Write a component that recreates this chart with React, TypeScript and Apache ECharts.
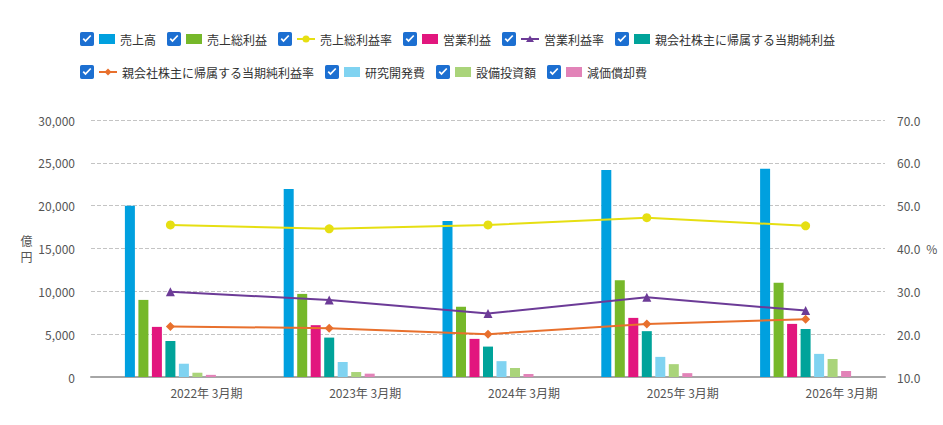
import React, { useEffect, useRef } from 'react';
import * as echarts from 'echarts';

const categories = ['2022年 3月期', '2023年 3月期', '2024年 3月期', '2025年 3月期', '2026年 3月期'];
const sales = [20000, 21950, 18200, 24150, 24300];
const grossProfit = [9000, 9700, 8200, 11300, 11000];
const grossMargin = [45.5, 44.6, 45.5, 47.2, 45.3];
const operatingProfit = [5850, 6050, 4450, 6900, 6200];
const opMargin = [29.9, 28.0, 24.8, 28.6, 25.5];
const netProfit = [4200, 4600, 3550, 5350, 5600];
const netMargin = [21.8, 21.4, 20.0, 22.4, 23.5];
const rnd = [1550, 1750, 1850, 2350, 2700];
const capex = [500, 580, 1050, 1500, 2100];
const depreciation = [250, 390, 350, 450, 700];
const leftTicks = { min: 0, max: 30000, interval: 5000 };
const rightTicks = { min: 10, max: 70, interval: 10 };

type Def = { name: string; kind: 'bar' | 'line'; data: number[]; color: string; symbol?: string };
const defs: Def[] = [
  { name: '売上高', kind: 'bar', data: sales, color: '#00a0df' },
  { name: '売上総利益', kind: 'bar', data: grossProfit, color: '#76b82a' },
  { name: '売上総利益率', kind: 'line', data: grossMargin, color: '#e6df12', symbol: 'circle' },
  { name: '営業利益', kind: 'bar', data: operatingProfit, color: '#e2167e' },
  { name: '営業利益率', kind: 'line', data: opMargin, color: '#6c3b97', symbol: 'triangle' },
  { name: '親会社株主に帰属する当期純利益', kind: 'bar', data: netProfit, color: '#00a39a' },
  { name: '親会社株主に帰属する当期純利益率', kind: 'line', data: netMargin, color: '#e8702d', symbol: 'diamond' },
  { name: '研究開発費', kind: 'bar', data: rnd, color: '#80d3f1' },
  { name: '設備投資額', kind: 'bar', data: capex, color: '#aad47a' },
  { name: '減価償却費', kind: 'bar', data: depreciation, color: '#e283b8' },
];

const checkboxPath =
  'path://M2,0 L14,0 Q16,0 16,2 L16,14 Q16,16 14,16 L2,16 Q0,16 0,14 L0,2 Q0,0 2,0 Z ' +
  'M3,8.2 L6.3,11.6 L13,4.6 L11.6,3.3 L6.3,8.9 L4.4,6.9 Z';

function markerSvg(color: string, symbol: string): string {
  let m = '';
  if (symbol === 'circle') m = `<circle cx='9' cy='5' r='3.5' fill='${color}'/>`;
  else if (symbol === 'triangle') m = `<polygon points='9,1.5 13,8 5,8' fill='${color}'/>`;
  else m = `<polygon points='9,1.5 12.5,5 9,8.5 5.5,5' fill='${color}'/>`;
  const svg = `<svg xmlns='http://www.w3.org/2000/svg' width='18' height='10'><line x1='0' y1='5' x2='18' y2='5' stroke='${color}' stroke-width='2'/>${m}</svg>`;
  return 'data:image/svg+xml;charset=utf-8,' + encodeURIComponent(svg);
}

export default function App() {
  const ref = useRef<HTMLDivElement>(null);
  useEffect(() => {
    document.body.style.margin = '0';
    if (!ref.current) return;
    const chart = echarts.init(ref.current, undefined, { renderer: 'svg' });
    const rich: Record<string, any> = {
      t: { fontSize: 12, color: '#333', padding: [0, 0, 0, 5], fontFamily: '"Noto Sans CJK JP", sans-serif' },
    };
    defs.forEach((d, i) => {
      if (d.kind === 'bar') rich['s' + i] = { width: 16, height: 10, backgroundColor: d.color };
      else rich['s' + i] = { width: 18, height: 10, backgroundColor: { image: markerSvg(d.color, d.symbol as string) } };
    });
    const series: any[] = defs.map((d) =>
      d.kind === 'bar'
        ? {
            name: d.name,
            type: 'bar',
            data: d.data,
            yAxisIndex: 0,
            barWidth: 10,
            barGap: '35%',
            itemStyle: { color: d.color },
          }
        : {
            name: d.name,
            type: 'line',
            data: d.data,
            yAxisIndex: 1,
            symbol: d.symbol,
            symbolSize: 9,
            z: 5,
            lineStyle: { color: d.color, width: 2 },
            itemStyle: { color: d.color },
          }
    );
    const legendBase = (items: Def[], top: number) => ({
      left: 80,
      top,
      padding: 0,
      itemWidth: 14,
      itemHeight: 14,
      itemGap: 11,
      data: items.map((d) => ({
        name: d.name,
        icon: checkboxPath,
        itemStyle: { color: '#1c6fd1', borderWidth: 0 },
      })),
      formatter: (name: string) => {
        const i = defs.findIndex((d) => d.name === name);
        return `{s${i}|}{t|${name}}`;
      },
      textStyle: { rich, fontSize: 12, color: '#333' },
    });
    chart.setOption({
      animation: false,
      textStyle: { fontFamily: '"Noto Sans CJK JP", sans-serif' },
      legend: [legendBase(defs.slice(0, 6), 32), legendBase(defs.slice(6), 65)],
      grid: { left: 91, right: 58, top: 120, bottom: 48 },
      xAxis: {
        type: 'category',
        data: categories,
        axisTick: { show: false },
        axisLine: { lineStyle: { color: '#a6a6a6', width: 2 } },
        axisLabel: { align: 'left', margin: 9, color: '#555', fontSize: 12 },
      },
      yAxis: [
        {
          type: 'value',
          ...leftTicks,
          name: '億\n円',
          nameLocation: 'middle',
          nameRotate: 0,
          nameGap: 58,
          nameTextStyle: { color: '#555', fontSize: 12, lineHeight: 16 },
          axisLabel: {
            color: '#555',
            fontSize: 12,
            margin: 16,
            formatter: (v: number) => v.toLocaleString('en-US'),
          },
          axisLine: { show: false },
          axisTick: { show: false },
          splitLine: { lineStyle: { color: '#c4c4c4', type: 'dashed' } },
        },
        {
          type: 'value',
          ...rightTicks,
          position: 'right',
          name: '%',
          nameLocation: 'middle',
          nameRotate: 0,
          nameGap: 40,
          nameTextStyle: { color: '#555', fontSize: 12 },
          axisLabel: { color: '#555', fontSize: 12, margin: 12, formatter: (v: number) => v.toFixed(1) },
          axisLine: { show: false },
          axisTick: { show: false },
          splitLine: { show: false },
        },
      ],
      series,
    });
    return () => chart.dispose();
  }, []);
  return <div ref={ref} style={{ width: 943, height: 425 }} />;
}
